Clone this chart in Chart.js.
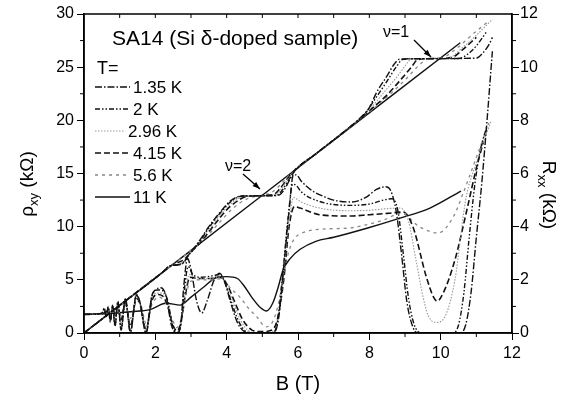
<!DOCTYPE html>
<html>
<head>
<meta charset="utf-8">
<script src="https://cdn.jsdelivr.net/npm/chart.js@4.4.1/dist/chart.umd.min.js"></script>
<style>
  html, body { margin: 0; padding: 0; background: #fff; }
  #wrap { width: 569px; height: 401px; position: relative; }
</style>
</head>
<body>
<div id="wrap"><canvas id="chart"></canvas></div>
<script>
// Temperatures in the legend
const temps = ['1.35 K', '2 K', '2.96 K', '4.15 K', '5.6 K', '11 K'];

// Axis ticks
const bTicks = [0, 2, 4, 6, 8, 10, 12];
const rhoTicks = [0, 5, 10, 15, 20, 25, 30];
const rxxTicks = [0, 2, 4, 6, 8, 10, 12];

// Hall resistivity rho_xy (kOhm) vs B (T), pairs [B, rho]
const hall135 = [[0,0],[1.0,2.6],[2.2,5.7],[2.4,6.3],[2.75,6.5],[2.95,7.4],[3.2,8.5],[3.5,10.0],[3.8,11.3],[4.1,12.4],[4.4,12.88],[5.0,12.9],[5.45,12.95],[5.6,13.4],[5.75,14.3],[5.9,15.2],[6.5,16.85],[7.0,18.15],[7.5,19.5],[7.8,20.4],[8.0,21.2],[8.2,22.6],[8.5,24.2],[8.7,25.3],[8.85,25.75],[9.5,25.8],[11.0,25.85],[11.2,26.4],[11.35,27.1],[11.45,27.8]];
const hall2 = [[0,0],[1.0,2.6],[2.2,5.7],[2.4,6.3],[2.75,6.55],[2.95,7.4],[3.2,8.4],[3.5,9.9],[3.8,11.2],[4.1,12.3],[4.45,12.88],[5.4,12.95],[5.55,13.4],[5.72,14.3],[5.9,15.2],[6.5,16.85],[7.0,18.15],[7.5,19.5],[7.8,20.3],[8.2,22.2],[8.5,23.7],[8.75,25.0],[8.95,25.75],[9.5,25.8],[10.5,25.82],[10.75,26.2],[11.0,27.0],[11.3,28.4]];
const hall296 = [[0,0],[1.0,2.6],[2.2,5.7],[2.45,6.35],[2.75,6.6],[2.95,7.4],[3.2,8.35],[3.5,9.7],[3.8,11.0],[4.1,12.1],[4.5,12.85],[5.35,12.98],[5.52,13.5],[5.7,14.4],[5.9,15.25],[6.5,16.85],[7.0,18.15],[7.5,19.45],[8.0,21.0],[8.4,22.6],[8.8,24.2],[9.0,25.1],[9.15,25.7],[9.5,25.8],[10.2,25.85],[10.6,26.8],[11.0,28.0],[11.45,29.5]];
const hall415 = [[0,0],[1.0,2.6],[2.2,5.7],[2.5,6.45],[2.8,6.9],[3.0,7.6],[3.2,8.3],[3.5,9.5],[3.8,10.8],[4.1,11.9],[4.6,12.85],[5.3,13.0],[5.5,13.6],[5.7,14.5],[5.9,15.3],[6.5,16.85],[7.0,18.15],[7.5,19.45],[8.0,20.9],[8.5,22.4],[8.9,23.9],[9.2,25.1],[9.35,25.7],[9.7,25.8],[10.3,25.9],[10.6,26.6],[11.0,27.8]];
const hall56 = [[0,0],[1.0,2.6],[2.2,5.7],[2.5,6.45],[2.9,7.5],[3.5,9.3],[3.8,10.4],[4.2,11.8],[4.6,12.65],[5.0,12.95],[5.3,13.3],[5.6,14.3],[5.9,15.3],[6.5,16.85],[7.0,18.15],[8.0,20.8],[8.5,22.2],[9.0,23.8],[9.4,25.2],[9.6,25.7],[9.9,25.85],[10.1,25.95],[10.5,26.9],[10.9,28.1],[11.3,29.2]];
const hall11 = [[0,0],[5.0,12.95],[10.55,27.3]];

// Longitudinal resistance R_xx (kOhm) vs B (T), pairs [B, R]
const rxx135 = [[0,0.7],[0.3,0.72],[0.5,0.75],[0.57,0.95],[0.62,0.6],[0.68,1.0],[0.74,0.4],[0.8,1.05],[0.87,0.25],[0.95,1.2],[1.04,0.1],[1.16,1.3],[1.3,0.03],[1.47,1.45],[1.56,1.2],[1.74,0],[1.9,1.4],[2.0,1.62],[2.15,1.7],[2.3,1.4],[2.45,0.3],[2.6,0],[2.7,0.2],[2.8,1.8],[2.9,2.8],[3.0,2.4],[3.15,1.25],[3.3,0.75],[3.45,1.2],[3.65,2.0],[3.8,2.25],[3.95,1.9],[4.1,1.2],[4.3,0.4],[4.5,0.05],[4.7,0],[5.3,0],[5.45,0.5],[5.6,2.5],[5.75,4.6],[5.87,5.95],[5.95,5.95],[6.1,5.7],[6.4,5.35],[6.7,5.15],[7.0,5.0],[7.5,4.93],[7.9,5.1],[8.2,5.4],[8.45,5.5],[8.6,5.35],[8.75,4.6],[8.9,3.0],[9.05,1.2],[9.2,0.3],[9.35,0],[10.55,0],[10.7,0.3],[10.85,1.5],[11.0,3.6],[11.15,5.6],[11.3,8.0],[11.45,10.6]];
const rxx2 = [[0,0.7],[0.5,0.74],[0.57,0.9],[0.62,0.62],[0.68,0.97],[0.74,0.45],[0.8,1.02],[0.87,0.3],[0.95,1.15],[1.04,0.15],[1.16,1.28],[1.3,0.05],[1.47,1.42],[1.56,1.2],[1.74,0.02],[1.9,1.35],[2.05,1.62],[2.2,1.6],[2.35,1.2],[2.48,0.3],[2.6,0],[2.7,0.2],[2.82,1.7],[2.92,2.5],[3.05,2.2],[3.3,2.1],[3.6,2.15],[3.8,2.2],[3.95,1.9],[4.15,1.1],[4.35,0.4],[4.55,0.05],[4.75,0],[5.3,0],[5.42,0.4],[5.57,2.2],[5.72,4.3],[5.85,5.6],[5.95,5.55],[6.1,5.3],[6.6,4.95],[7.45,4.8],[8.0,4.85],[8.4,5.0],[8.63,5.05],[8.8,4.6],[8.95,3.0],[9.1,1.3],[9.25,0.35],[9.45,0],[10.35,0],[10.5,0.3],[10.65,1.5],[10.8,3.6],[10.95,5.5],[11.1,6.8],[11.3,7.8]];
const rxx296 = [[0,0.7],[0.5,0.73],[0.6,0.85],[0.68,0.8],[0.74,0.6],[0.8,0.95],[0.87,0.45],[0.95,1.1],[1.04,0.3],[1.16,1.22],[1.3,0.12],[1.47,1.38],[1.56,1.2],[1.74,0.08],[1.9,1.3],[2.05,1.5],[2.2,1.5],[2.35,1.1],[2.48,0.3],[2.6,0.03],[2.72,0.3],[2.85,1.6],[2.95,2.2],[3.1,2.1],[3.5,2.05],[3.8,2.1],[4.0,1.8],[4.2,1.1],[4.4,0.45],[4.6,0.1],[4.8,0.02],[5.3,0.05],[5.45,0.5],[5.6,2.2],[5.75,4.2],[5.88,5.1],[6.06,4.95],[6.6,4.7],[7.45,4.6],[8.0,4.62],[8.5,4.68],[8.86,4.7],[9.1,4.2],[9.3,2.8],[9.5,1.4],[9.65,0.65],[9.9,0.4],[10.15,0.7],[10.4,2.0],[10.7,5.0],[11.0,6.4],[11.42,8.0]];
const rxx415 = [[0,0.7],[0.5,0.72],[0.65,0.82],[0.74,0.72],[0.82,0.9],[0.87,0.65],[0.95,1.0],[1.04,0.5],[1.16,1.15],[1.3,0.25],[1.47,1.3],[1.56,1.15],[1.74,0.15],[1.9,1.2],[2.05,1.45],[2.2,1.4],[2.35,1.0],[2.48,0.35],[2.6,0.08],[2.72,0.4],[2.85,1.5],[2.97,2.1],[3.2,2.05],[3.5,2.05],[3.8,2.1],[4.0,1.85],[4.2,1.25],[4.45,0.5],[4.7,0.12],[4.95,0.05],[5.25,0.1],[5.42,0.5],[5.6,2.0],[5.75,4.0],[5.9,4.75],[6.06,4.7],[6.6,4.45],[7.45,4.4],[8.0,4.45],[8.5,4.5],[8.95,4.55],[9.22,4.0],[9.6,2.1],[9.8,1.35],[9.9,1.2],[10.07,1.5],[10.4,2.75],[10.73,4.6],[11.0,6.2],[11.2,7.2]];
const rxx56 = [[0,0.7],[0.6,0.75],[0.8,0.82],[0.95,0.92],[1.04,0.75],[1.16,1.05],[1.3,0.55],[1.47,1.2],[1.6,1.05],[1.74,0.35],[1.9,1.05],[2.1,1.35],[2.3,1.1],[2.48,0.5],[2.6,0.2],[2.72,0.5],[2.85,1.4],[3.0,1.95],[3.3,2.0],[3.6,2.0],[3.85,2.05],[4.1,1.7],[4.37,1.35],[4.6,0.95],[4.85,0.6],[5.1,0.23],[5.3,0.45],[5.45,1.1],[5.6,2.2],[5.75,3.1],[5.9,3.55],[6.1,3.75],[6.6,3.9],[7.45,3.95],[8.0,4.1],[8.4,4.25],[8.9,4.5],[9.4,4.0],[9.93,3.76],[10.35,4.36],[10.63,5.26],[11.0,6.6],[11.35,7.9]];
const rxx11 = [[0,0.7],[0.7,0.73],[1.3,0.8],[1.85,0.88],[2.3,1.12],[2.7,1.05],[3.0,1.35],[3.36,1.73],[3.7,2.08],[4.0,2.12],[4.3,2.05],[4.5,1.75],[4.7,1.35],[4.95,0.95],[5.12,0.83],[5.3,1.15],[5.45,1.75],[5.58,2.37],[5.78,2.8],[6.06,3.15],[6.5,3.45],[7.0,3.6],[7.93,3.94],[8.86,4.32],[9.7,4.7],[10.57,5.34]];

const hallSets = [hall135, hall2, hall296, hall415, hall56, hall11];
const rxxSets = [rxx135, rxx2, rxx296, rxx415, rxx56, rxx11];

// line look for each temperature
const styles = [
  { color: '#111', dash: [7, 2, 1.5, 2], width: 1.4 },
  { color: '#111', dash: [5, 2, 1.5, 2, 1.5, 2], width: 1.4 },
  { color: '#999', dash: [1.5, 1.5], width: 1.1 },
  { color: '#111', dash: [6, 3], width: 1.6 },
  { color: '#888', dash: [3, 4], width: 1.3 },
  { color: '#111', dash: [], width: 1.4 }
];

const FONT = '"Liberation Sans", Arial, sans-serif';
const toXY = pts => pts.map(p => ({ x: p[0], y: p[1] }));

const datasets = [];
temps.forEach((t, i) => {
  const st = styles[i];
  const common = {
    borderColor: st.color, borderDash: st.dash, borderWidth: st.width,
    pointRadius: 0, fill: false, cubicInterpolationMode: 'monotone'
  };
  datasets.push(Object.assign({ label: 'rho ' + t, data: toXY(hallSets[i]), yAxisID: 'y' }, common));
  datasets.push(Object.assign({ label: 'Rxx ' + t, data: toXY(rxxSets[i]), yAxisID: 'y1' }, common));
});

function drawParts(ctx, parts, size, subSize) {
  // parts: [text, isSub]; drawn centred on x = 0, baseline y = 0
  let total = 0;
  parts.forEach(p => {
    ctx.font = (p[1] ? subSize : size) + 'px ' + FONT;
    total += ctx.measureText(p[0]).width;
  });
  let x = -total / 2;
  parts.forEach(p => {
    ctx.font = (p[1] ? subSize : size) + 'px ' + FONT;
    ctx.fillText(p[0], x, p[1] ? 5 : 0);
    x += ctx.measureText(p[0]).width;
  });
}

function arrow(ctx, x1, y1, x2, y2) {
  ctx.beginPath();
  ctx.moveTo(x1, y1);
  ctx.lineTo(x2, y2);
  ctx.stroke();
  const ang = Math.atan2(y2 - y1, x2 - x1);
  ctx.beginPath();
  ctx.moveTo(x2, y2);
  ctx.lineTo(x2 - 8 * Math.cos(ang - 0.35), y2 - 8 * Math.sin(ang - 0.35));
  ctx.lineTo(x2 - 8 * Math.cos(ang + 0.35), y2 - 8 * Math.sin(ang + 0.35));
  ctx.closePath();
  ctx.fill();
}

const extras = {
  id: 'extras',
  afterDraw(chart) {
    const ctx = chart.ctx;
    const a = chart.chartArea;
    const sx = chart.scales.x, sy = chart.scales.y, sr = chart.scales.y1;
    ctx.save();
    ctx.setLineDash([]);
    ctx.strokeStyle = '#000';
    ctx.fillStyle = '#000';

    // frame
    ctx.lineWidth = 1.5;
    ctx.strokeRect(a.left, a.top, a.right - a.left, a.bottom - a.top);

    // minor ticks and top ticks
    ctx.lineWidth = 1;
    ctx.beginPath();
    for (let b = 0; b <= 12; b++) {
      const px = sx.getPixelForValue(b);
      if (b % 2) { ctx.moveTo(px, a.bottom); ctx.lineTo(px, a.bottom + 4); }
      if (b > 0 && b < 12) { ctx.moveTo(px, a.top); ctx.lineTo(px, a.top + 4); }
    }
    for (let v = 2.5; v < 30; v += 5) {
      const py = sy.getPixelForValue(v);
      ctx.moveTo(a.left, py); ctx.lineTo(a.left - 4, py);
    }
    for (let v = 1; v < 12; v += 2) {
      const py = sr.getPixelForValue(v);
      ctx.moveTo(a.right, py); ctx.lineTo(a.right + 4, py);
    }
    ctx.stroke();

    // sample title
    ctx.textBaseline = 'alphabetic';
    ctx.textAlign = 'left';
    ctx.font = '21px ' + FONT;
    ctx.fillText('SA14 (Si \u03b4-doped sample)', 112, 45);

    // legend
    ctx.font = '18px ' + FONT;
    ctx.fillText('T=', 97, 74);
    const rowY = [87, 109, 131, 153, 175, 197];
    const textX = [133, 133, 128, 133, 133, 133];
    ctx.font = '17px ' + FONT;
    temps.forEach((t, i) => {
      const st = styles[i];
      ctx.save();
      ctx.strokeStyle = st.color;
      ctx.lineWidth = st.width;
      ctx.setLineDash(st.dash);
      ctx.beginPath();
      ctx.moveTo(95, rowY[i]);
      ctx.lineTo(textX[i] - 3, rowY[i]);
      ctx.stroke();
      ctx.restore();
      ctx.fillText(t, textX[i], rowY[i] + 6);
    });

    // filling factor labels
    ctx.font = '16px ' + FONT;
    ctx.fillText('\u03bd=2', 225, 171);
    ctx.fillText('\u03bd=1', 383, 37);
    ctx.lineWidth = 1.3;
    arrow(ctx, 243, 174, 260, 189);
    arrow(ctx, 414, 40, 431, 57);

    // axis titles
    ctx.textAlign = 'left';
    ctx.font = '20px ' + FONT;
    const bw = ctx.measureText('B (T)').width;
    ctx.fillText('B (T)', 298 - bw / 2, 390);

    ctx.save();
    ctx.translate(33, 184);
    ctx.rotate(-Math.PI / 2);
    drawParts(ctx, [['\u03c1', false], ['xy', true], [' (k\u03a9)', false]], 19, 13);
    ctx.restore();

    ctx.save();
    ctx.translate(543, 195);
    ctx.rotate(Math.PI / 2);
    drawParts(ctx, [['R', false], ['xx', true], [' (k\u03a9)', false]], 19, 13);
    ctx.restore();

    ctx.restore();
  }
};

const tickFont = { family: FONT, size: 16 };

new Chart(document.getElementById('chart'), {
  type: 'line',
  data: { datasets: datasets },
  options: {
    responsive: true,
    maintainAspectRatio: false,
    animation: false,
    layout: { padding: { top: 14, left: 0, right: 0, bottom: 0 } },
    plugins: { legend: { display: false }, tooltip: { enabled: false } },
    scales: {
      x: {
        type: 'linear', min: 0, max: 12,
        afterBuildTicks: s => { s.ticks = bTicks.map(v => ({ value: v })); },
        ticks: { font: tickFont, color: '#000', padding: 4, maxRotation: 0 },
        grid: { drawOnChartArea: false, tickLength: 7, color: '#000' },
        border: { color: '#000', width: 1.5 },
        afterFit: s => { s.height = 68; }
      },
      y: {
        position: 'left', min: 0, max: 30,
        afterBuildTicks: s => { s.ticks = rhoTicks.map(v => ({ value: v })); },
        ticks: { font: tickFont, color: '#000', padding: 3 },
        grid: { drawOnChartArea: false, tickLength: 7, color: '#000' },
        border: { color: '#000', width: 1.5 },
        afterFit: s => { s.width = 84; }
      },
      y1: {
        position: 'right', min: 0, max: 12,
        afterBuildTicks: s => { s.ticks = rxxTicks.map(v => ({ value: v })); },
        ticks: { font: tickFont, color: '#000', padding: 1 },
        grid: { drawOnChartArea: false, tickLength: 7, color: '#000' },
        border: { color: '#000', width: 1.5 },
        afterFit: s => { s.width = 57; }
      }
    }
  },
  plugins: [extras]
});
</script>
</body>
</html>
